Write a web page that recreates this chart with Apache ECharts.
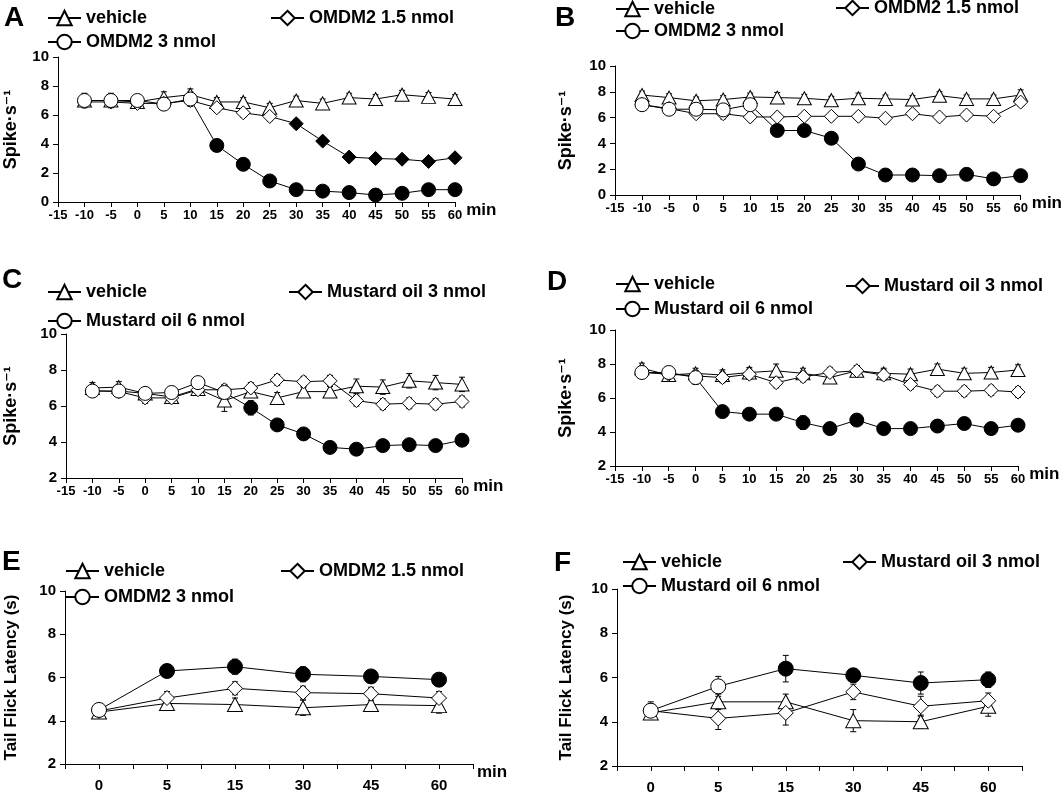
<!DOCTYPE html>
<html><head><meta charset="utf-8">
<script src="https://cdn.jsdelivr.net/npm/echarts@6/dist/echarts.min.js"></script>
<style>html,body{margin:0;padding:0;background:#fff}#chart{width:1063px;height:795px}</style>
</head><body><div id="chart"></div>
<script>
// ---------- data ----------
const minutes = [-10,-5,0,5,10,15,20,25,30,35,40,45,50,55,60];
const tailTimes = ['0','5','15','30','45','60'];

// Panel A
const vehicleA = [7.0,7.0,6.9,7.2,7.4,6.9,6.9,6.5,7.0,6.8,7.2,7.1,7.4,7.25,7.1];
const vehicleA_err = [0.4,0.4,0.3,0.4,0.4,0.3,0.3,0.3,0.3,0.3,0.3,0.3,0.3,0.3,0.3];
const omdm15A = [6.9,6.9,6.8,6.8,7.0,6.5,6.15,5.9,5.4,4.2,3.1,3.0,2.95,2.8,3.05];
const omdm15A_err = [0.3,0.3,0.3,0.3,0.3,0.3,0.3,0.3,0.3,0.2,0.2,0.2,0.2,0.2,0.2];
const omdm15A_sig = [0,0,0,0,0,0,0,0,1,1,1,1,1,1,1];
const omdm3A = [7.0,7.0,7.0,6.75,7.1,3.9,2.6,1.45,0.85,0.75,0.65,0.48,0.6,0.85,0.85];
const omdm3A_err = [0.5,0.5,0.3,0.4,0.5,0.3,0.3,0.2,0.2,0.2,0.2,0.2,0.2,0.2,0.2];
const omdm3A_sig = [0,0,0,0,0,1,1,1,1,1,1,1,1,1,1];

// Panel B
const vehicleB = [7.75,7.55,7.3,7.4,7.6,7.55,7.5,7.35,7.5,7.45,7.4,7.7,7.45,7.45,7.75];
const vehicleB_err = [0.3,0.3,0.3,0.3,0.3,0.4,0.3,0.3,0.4,0.3,0.3,0.3,0.3,0.3,0.4];
const omdm15B = [7.0,6.7,6.3,6.3,6.05,6.05,6.1,6.1,6.1,5.95,6.3,6.05,6.2,6.1,7.2];
const omdm15B_err = [0.3,0.3,0.3,0.4,0.3,0.3,0.3,0.3,0.3,0.3,0.3,0.3,0.3,0.3,0.3];
const omdm15B_sig = [0,0,0,0,0,0,0,0,0,0,0,0,0,0,0];
const omdm3B = [7.0,6.65,6.65,6.6,7.0,5.0,5.0,4.4,2.4,1.55,1.55,1.5,1.6,1.25,1.5];
const omdm3B_err = [0.3,0.3,0.3,0.3,0.3,0.3,0.3,0.3,0.3,0.2,0.2,0.2,0.2,0.2,0.2];
const omdm3B_sig = [0,0,0,0,0,1,1,1,1,1,1,1,1,1,1];

// Panel C
const vehicleC = [7.0,7.05,6.7,6.5,6.95,6.3,6.8,6.45,6.8,6.8,7.1,7.05,7.4,7.3,7.2];
const vehicleC_err = [0.3,0.3,0.3,0.3,0.3,0.6,0.3,0.3,0.3,0.3,0.4,0.4,0.4,0.4,0.4];
const mustard3C = [6.85,6.8,6.45,6.45,6.9,6.9,7.0,7.45,7.35,7.4,6.3,6.1,6.15,6.1,6.25];
const mustard3C_err = [0.3,0.3,0.3,0.3,0.3,0.3,0.3,0.3,0.3,0.3,0.3,0.3,0.3,0.3,0.3];
const mustard3C_sig = [0,0,0,0,0,0,0,0,0,0,0,0,0,0,0];
const mustard6C = [6.83,6.83,6.7,6.75,7.3,6.75,5.9,4.95,4.45,3.7,3.6,3.8,3.85,3.8,4.1];
const mustard6C_err = [0.3,0.3,0.3,0.3,0.3,0.3,0.4,0.3,0.2,0.2,0.2,0.2,0.2,0.2,0.2];
const mustard6C_sig = [0,0,0,0,0,0,1,1,1,1,1,1,1,1,1];

// Panel D
const vehicleD = [7.75,7.35,7.45,7.35,7.5,7.6,7.45,7.2,7.6,7.45,7.4,7.7,7.45,7.5,7.65];
const vehicleD_err = [0.3,0.3,0.3,0.3,0.3,0.4,0.3,0.3,0.3,0.3,0.3,0.3,0.3,0.3,0.3];
const mustard3D = [7.5,7.4,7.3,7.2,7.4,6.9,7.25,7.5,7.6,7.35,6.8,6.4,6.4,6.45,6.35];
const mustard3D_err = [0.3,0.3,0.3,0.3,0.3,0.3,0.3,0.3,0.3,0.3,0.3,0.3,0.3,0.3,0.3];
const mustard3D_sig = [0,0,0,0,0,0,0,0,0,0,0,0,0,0,0];
const mustard6D = [7.5,7.5,7.2,5.2,5.05,5.05,4.55,4.2,4.7,4.2,4.2,4.35,4.5,4.2,4.4];
const mustard6D_err = [0.3,0.3,0.4,0.3,0.3,0.3,0.4,0.3,0.3,0.2,0.2,0.2,0.2,0.2,0.2];
const mustard6D_sig = [0,0,0,1,1,1,1,1,1,1,1,1,1,1,1];

// Panel E
const vehicleE = [4.4,4.8,4.75,4.6,4.75,4.7];
const vehicleE_err = [0.2,0.3,0.3,0.35,0.3,0.35];
const omdm15E = [4.45,5.05,5.5,5.3,5.25,5.05];
const omdm15E_err = [0.2,0.3,0.3,0.3,0.3,0.3];
const omdm15E_sig = [0,0,0,0,0,0];
const omdm3E = [4.5,6.3,6.5,6.15,6.05,5.9];
const omdm3E_err = [0.2,0.2,0.35,0.35,0.25,0.3];
const omdm3E_sig = [0,1,1,1,1,1];

// Panel F
const vehicleF = [4.4,4.9,4.9,4.05,4.0,4.7];
const vehicleF_err = [0.3,0.35,0.35,0.5,0.3,0.45];
const mustard3F = [4.5,4.15,4.4,5.35,4.7,4.95];
const mustard3F_err = [0.3,0.5,0.55,0.35,0.45,0.35];
const mustard3F_sig = [0,0,0,0,0,0];
const mustard6F = [4.5,5.6,6.4,6.1,5.75,5.9];
const mustard6F_err = [0.4,0.45,0.6,0.3,0.5,0.35];
const mustard6F_sig = [0,0,1,1,1,1];

// ---------- layout ----------
const FONT = '"Liberation Sans", Arial, "DejaVu Sans", sans-serif';
const panels = [
  {letter:'A', lx:12, ly:18, grid:{left:58, top:57, width:397, height:145}, ymin:0, kind:'min', minName:true, yName:'Spike·s⁻¹', nameGap:38,
   groups:[
     {name:'vehicle', sym:'triangle', y:vehicleA, e:vehicleA_err, sig:null, leg:[47,19]},
     {name:'OMDM2 1.5 nmol', sym:'diamond', y:omdm15A, e:omdm15A_err, sig:omdm15A_sig, leg:[270,19]},
     {name:'OMDM2 3 nmol', sym:'circle', y:omdm3A, e:omdm3A_err, sig:omdm3A_sig, leg:[47,43]}]},
  {letter:'B', lx:563, ly:18, grid:{left:615, top:66, width:413, height:129}, ymin:0, kind:'min', minName:true, yName:'Spike·s⁻¹', nameGap:40,
   groups:[
     {name:'vehicle', sym:'triangle', y:vehicleB, e:vehicleB_err, sig:null, leg:[615,10]},
     {name:'OMDM2 1.5 nmol', sym:'diamond', y:omdm15B, e:omdm15B_err, sig:omdm15B_sig, leg:[835,9]},
     {name:'OMDM2 3 nmol', sym:'circle', y:omdm3B, e:omdm3B_err, sig:omdm3B_sig, leg:[615,32]}]},
  {letter:'C', lx:10, ly:280, grid:{left:66, top:334, width:396, height:144}, ymin:2, kind:'min', minName:true, yName:'Spike·s⁻¹', nameGap:46,
   groups:[
     {name:'vehicle', sym:'triangle', y:vehicleC, e:vehicleC_err, sig:null, leg:[47,293]},
     {name:'Mustard oil 3 nmol', sym:'diamond', y:mustard3C, e:mustard3C_err, sig:mustard3C_sig, leg:[288,293]},
     {name:'Mustard oil 6 nmol', sym:'circle', y:mustard6C, e:mustard6C_err, sig:mustard6C_sig, leg:[47,322]}]},
  {letter:'D', lx:555, ly:282, grid:{left:615, top:330, width:403, height:136}, ymin:2, kind:'min', minName:true, yName:'Spike·s⁻¹', nameGap:40,
   groups:[
     {name:'vehicle', sym:'triangle', y:vehicleD, e:vehicleD_err, sig:null, leg:[615,285]},
     {name:'Mustard oil 3 nmol', sym:'diamond', y:mustard3D, e:mustard3D_err, sig:mustard3D_sig, leg:[845,287]},
     {name:'Mustard oil 6 nmol', sym:'circle', y:mustard6D, e:mustard6D_err, sig:mustard6D_sig, leg:[615,310]}]},
  {letter:'E', lx:10, ly:562, grid:{left:65, top:591, width:408, height:173}, ymin:2, kind:'tail', minName:true, yName:'Tail Flick Latency (s)', nameGap:45,
   groups:[
     {name:'vehicle', sym:'triangle', y:vehicleE, e:vehicleE_err, sig:null, leg:[65,572]},
     {name:'OMDM2 1.5 nmol', sym:'diamond', y:omdm15E, e:omdm15E_err, sig:omdm15E_sig, leg:[280,572]},
     {name:'OMDM2 3 nmol', sym:'circle', y:omdm3E, e:omdm3E_err, sig:omdm3E_sig, leg:[65,598]}]},
  {letter:'F', lx:562, ly:563, grid:{left:617, top:589, width:405, height:178}, ymin:2, kind:'tail', minName:false, yName:'Tail Flick Latency (s)', nameGap:42,
   groups:[
     {name:'vehicle', sym:'triangle', y:vehicleF, e:vehicleF_err, sig:null, leg:[622,563]},
     {name:'Mustard oil 3 nmol', sym:'diamond', y:mustard3F, e:mustard3F_err, sig:mustard3F_sig, leg:[842,563]},
     {name:'Mustard oil 6 nmol', sym:'circle', y:mustard6F, e:mustard6F_err, sig:mustard6F_sig, leg:[622,587]}]}
];

const grids = [], xAxes = [], yAxes = [], series = [], legends = [], graphics = [];
const axisLine = {show:true, onZero:false, lineStyle:{color:'#000', width:1}};
const axisTick = {show:true, inside:false, length:5, lineStyle:{color:'#000', width:1}};

function errRender(params, api){
  const x = api.value(0), y = api.value(1), e = api.value(2);
  const t = api.coord([x, y + e]), b = api.coord([x, y - e]);
  const hw = 3, st = {stroke:'#000', lineWidth:1};
  return {type:'group', children:[
    {type:'line', shape:{x1:t[0], y1:t[1], x2:b[0], y2:b[1]}, style:st},
    {type:'line', shape:{x1:t[0]-hw, y1:t[1], x2:t[0]+hw, y2:t[1]}, style:st},
    {type:'line', shape:{x1:b[0]-hw, y1:b[1], x2:b[0]+hw, y2:b[1]}, style:st}
  ]};
}

panels.forEach((p, gi) => {
  grids.push(Object.assign({containLabel:false}, p.grid));
  const isTail = p.kind === 'tail';
  xAxes.push({
    gridIndex:gi, type:'value',
    min: isTail ? -0.5 : -15, max: isTail ? 5.5 : 60, interval: isTail ? 0.5 : 5,
    axisLine, axisTick, splitLine:{show:false},
    axisLabel:{
      color:'#000', fontFamily:FONT, fontWeight:'bold', fontSize: isTail ? 15 : 13, margin: isTail ? 14 : 7,
      showMinLabel:true, showMaxLabel:true,
      formatter: isTail ? (v => Number.isInteger(v) && v >= 0 && v < tailTimes.length ? tailTimes[v] : '') : (v => String(v))
    },
    name: p.minName ? 'min' : '', nameLocation:'end', nameGap: isTail ? 4 : 8,
    nameTextStyle:{color:'#000', fontFamily:FONT, fontWeight:'bold', fontSize:17, verticalAlign:'top', padding:[0,0,0,0]}
  });
  yAxes.push({
    gridIndex:gi, type:'value', min:p.ymin, max:10, interval:2,
    axisLine, axisTick, splitLine:{show:false},
    axisLabel:{color:'#000', fontFamily:FONT, fontWeight:'bold', fontSize:15, margin:9},
    name:p.yName, nameLocation:'middle', nameRotate:90, nameGap:p.nameGap,
    nameTextStyle:{color:'#000', fontFamily:'"Liberation Sans", "DejaVu Sans", sans-serif', fontWeight:'bold', fontSize: isTail ? 17 : 18}
  });
  const xs = isTail ? tailTimes.map((_, i) => i) : minutes;
  const size = isTail ? 15 : 14;
  p.groups.forEach((g, k) => {
    series.push({
      type:'custom', name:g.name + ' err', xAxisIndex:gi, yAxisIndex:gi, z:1, silent:true,
      encode:{x:0, y:1},
      data: xs.map((x, i) => [x, g.y[i], g.e[i]]),
      renderItem: errRender
    });
    series.push({
      type:'line', name:g.name, xAxisIndex:gi, yAxisIndex:gi, z:2 + k,
      symbol:g.sym, symbolSize: g.sym === 'triangle' ? [size, size - 1] : size,
      showAllSymbol:true, animation:false,
      lineStyle:{color:'#000', width:1},
      itemStyle:{color:'#fff', borderColor:'#000', borderWidth:1},
      emphasis:{disabled:true},
      data: xs.map((x, i) => ({value:[x, g.y[i]], itemStyle:{color: g.sig && g.sig[i] ? '#000' : '#fff'}}))
    });
    legends.push({
      data:[g.name], left:g.leg[0], top:g.leg[1] - 10, padding:0, selectedMode:false,
      itemWidth:33, itemHeight:18, itemGap:4,
      textStyle:{color:'#000', fontFamily:FONT, fontWeight:'bold', fontSize:18}
    });
  });
  graphics.push({type:'text', left:p.lx - 8, top:p.ly - 14,
    style:{text:p.letter, fill:'#000', font:'bold 28px ' + FONT}});
});

const chart = echarts.init(document.getElementById('chart'), null, {renderer:'canvas'});
chart.setOption({
  animation:false, backgroundColor:'#fff',
  grid:grids, xAxis:xAxes, yAxis:yAxes, series, legend:legends, graphic:graphics
});
</script></body></html>
